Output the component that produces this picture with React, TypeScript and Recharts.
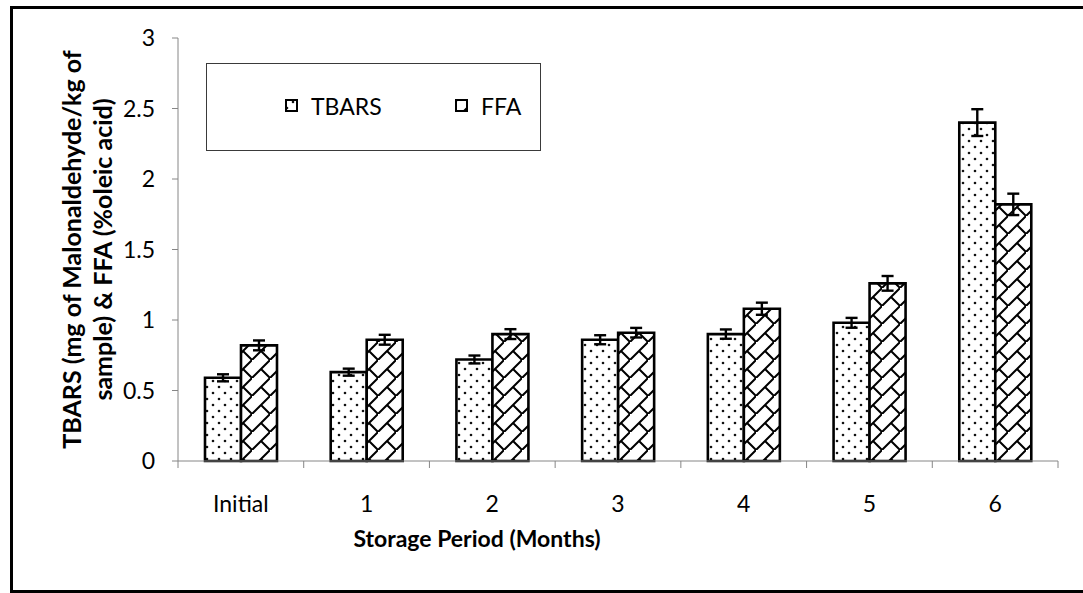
import React from 'react';
import { BarChart, Bar, XAxis, YAxis, ErrorBar, Legend } from 'recharts';

// Storage-period categories and the two measured series (mean and SD)
const categories = ['Initial', '1', '2', '3', '4', '5', '6'];
const tbarsValues = [0.59, 0.63, 0.72, 0.86, 0.9, 0.98, 2.4];
const tbarsErrors = [0.025, 0.025, 0.028, 0.032, 0.033, 0.035, 0.095];
const ffaValues = [0.82, 0.86, 0.9, 0.91, 1.08, 1.26, 1.82];
const ffaErrors = [0.035, 0.035, 0.035, 0.034, 0.043, 0.052, 0.076];
const yTicks = [0, 0.5, 1, 1.5, 2, 2.5, 3];
const seriesKeys = ['tbars', 'ffa'];
const seriesNames = ['TBARS', 'FFA'];
const xAxisTitle = 'Storage Period (Months)';
const yAxisTitleLines = ['TBARS (mg of Malonaldehyde/kg of', 'sample) & FFA (%oleic acid)'];

const data = categories.map((period, i) => ({
  period,
  tbars: tbarsValues[i],
  tbarsErr: tbarsErrors[i],
  ffa: ffaValues[i],
  ffaErr: ffaErrors[i],
}));

const W = 1083;
const H = 593;
const FONT = 'Lato, "Open Sans", sans-serif';
const AXIS_GREY = '#868686';
const X_TICK_SIZE = 7;
const X_TICK_MARGIN = 10;
const PATTERN_FOR: Record<string, string> = { tbars: 'url(#dotFill)', ffa: 'url(#brickFill)' };

// Category label centred in its band plus Excel-style tick marks on the band boundaries
const CategoryTick = (props: any) => {
  const { x, y, payload, index, visibleTicksCount, width } = props;
  const band = width / visibleTicksCount;
  const axisY = y - X_TICK_SIZE - X_TICK_MARGIN;
  const left = x - band / 2;
  const right = x + band / 2;
  return (
    <g>
      <line x1={left} y1={axisY} x2={left} y2={axisY + X_TICK_SIZE} stroke={AXIS_GREY} strokeWidth={1} />
      {index === visibleTicksCount - 1 && (
        <line x1={right} y1={axisY} x2={right} y2={axisY + X_TICK_SIZE} stroke={AXIS_GREY} strokeWidth={1} />
      )}
      <text x={x} y={axisY + 51} textAnchor="middle" fill="#000" fontSize={23} fontFamily={FONT}>
        {payload.value}
      </text>
    </g>
  );
};

const XTitle = (props: any) => {
  const { viewBox } = props;
  return (
    <text x={viewBox.x + 299} y={viewBox.y + 86} textAnchor="middle" fontSize={23} fontWeight="bold" fontFamily={FONT} fill="#000">
      {xAxisTitle}
    </text>
  );
};

const YTitle = (props: any) => {
  const { viewBox } = props;
  const cy = viewBox.y + viewBox.height / 2;
  const xs = [viewBox.x - 17, viewBox.x + 14];
  return (
    <g>
      {yAxisTitleLines.map((line, i) => (
        <text
          key={line}
          x={xs[i]}
          y={cy}
          transform={`rotate(-90, ${xs[i]}, ${cy})`}
          textAnchor="middle"
          fontSize={25}
          fontWeight="bold"
          fontFamily={FONT}
          fill="#000"
        >
          {line}
        </text>
      ))}
    </g>
  );
};

const LegendBox = (props: any) => {
  const payload: any[] = props.payload || [];
  const itemX = [80, 250];
  const ordered = seriesKeys
    .map((key) => payload.find((p) => p.dataKey === key))
    .filter(Boolean);
  return (
    <svg width={335} height={88} style={{ display: 'block' }}>
      <rect x={0.5} y={0.5} width={334} height={87} fill="#fff" stroke="#3a3a3a" strokeWidth={1} />
      {ordered.map((entry: any, i: number) => (
        <g key={entry.value}>
          <rect x={itemX[i]} y={37} width={11} height={11} fill={PATTERN_FOR[entry.dataKey]} stroke="#000" strokeWidth={2} />
          <text x={itemX[i] + 25} y={52} fontSize={23} fontFamily={FONT} fill="#000">
            {entry.value}
          </text>
        </g>
      ))}
    </svg>
  );
};

export default function App() {
  return (
    <div style={{ position: 'absolute', left: 0, top: 0, width: W, height: H, background: '#fff', overflow: 'hidden' }}>
      <div
        style={{
          position: 'absolute',
          left: 10,
          top: 6,
          width: W,
          height: H - 6,
          boxSizing: 'border-box',
          borderTop: '3px solid #000',
          borderLeft: '3px solid #000',
          borderBottom: '3px solid #000',
        }}
      />
      <div style={{ position: 'absolute', left: 0, top: 0 }}>
        <BarChart
          width={W}
          height={H}
          data={data}
          margin={{ top: 38, right: 25, bottom: 72, left: 98 }}
          barSize={36}
          barGap={0}
        >
          <defs>
            <pattern id="dotFill" width="12" height="12" patternUnits="userSpaceOnUse">
              <rect width="12" height="12" fill="#fff" />
              <circle cx="3" cy="3" r="1.3" fill="#111" />
              <circle cx="9" cy="9" r="1.3" fill="#111" />
            </pattern>
            <pattern id="brickFill" width="18" height="18" patternUnits="userSpaceOnUse">
              <rect width="18" height="18" fill="#fff" />
              <path d="M20 -2 L-2 20 M9 9 L19 19" stroke="#000" strokeWidth="2" fill="none" />
            </pattern>
          </defs>
          <XAxis
            dataKey="period"
            interval={0}
            height={60}
            axisLine={{ stroke: AXIS_GREY }}
            tickLine={false}
            tickSize={X_TICK_SIZE}
            tickMargin={X_TICK_MARGIN}
            tick={<CategoryTick />}
            label={{ content: <XTitle /> }}
          />
          <YAxis
            domain={[0, 3]}
            ticks={yTicks}
            interval={0}
            width={80}
            axisLine={{ stroke: AXIS_GREY }}
            tickLine={{ stroke: AXIS_GREY }}
            tickSize={6}
            tickMargin={17}
            tick={{ fill: '#000', fontSize: 23, fontFamily: FONT }}
            label={{ content: <YTitle /> }}
          />
          <Legend
            layout="vertical"
            align="center"
            verticalAlign="middle"
            wrapperStyle={{ left: 206, top: 63, width: 335, height: 88 }}
            content={<LegendBox />}
          />
          <Bar dataKey="tbars" name={seriesNames[0]} fill={PATTERN_FOR.tbars} stroke="#000" strokeWidth={2.6} isAnimationActive={false}>
            <ErrorBar dataKey="tbarsErr" width={6} stroke="#000" strokeWidth={2.4} direction="y" />
          </Bar>
          <Bar dataKey="ffa" name={seriesNames[1]} fill={PATTERN_FOR.ffa} stroke="#000" strokeWidth={2.6} isAnimationActive={false}>
            <ErrorBar dataKey="ffaErr" width={6} stroke="#000" strokeWidth={2.4} direction="y" />
          </Bar>
        </BarChart>
      </div>
    </div>
  );
}
